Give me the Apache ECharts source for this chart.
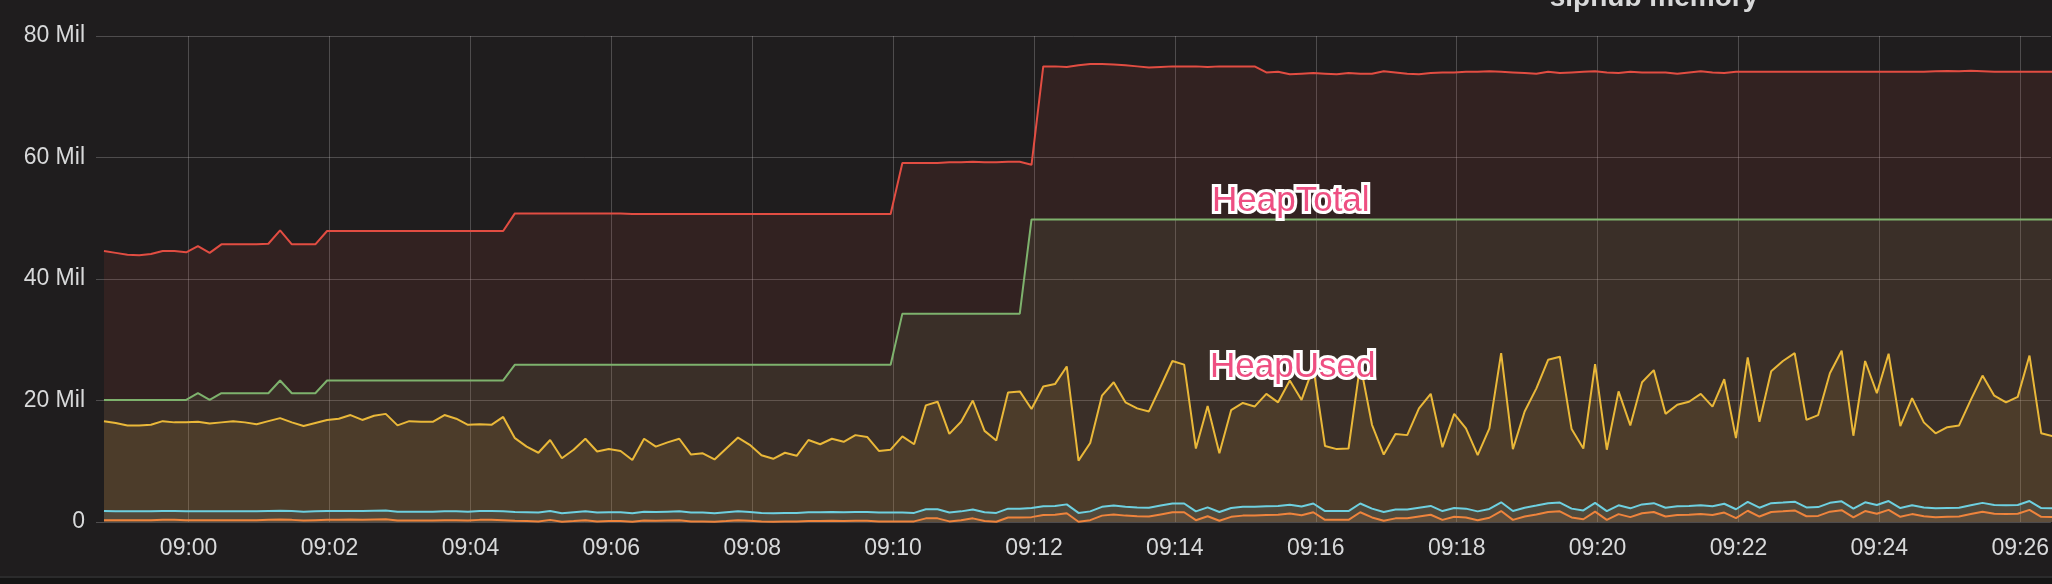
<!DOCTYPE html>
<html>
<head>
<meta charset="utf-8">
<script src="https://cdn.jsdelivr.net/npm/echarts@6/dist/echarts.min.js"></script>
<style>
html,body{margin:0;padding:0;background:#1f1d1e;overflow:hidden;}
#c{width:2052px;height:584px;}
</style>
</head>
<body>
<div id="c"></div>
<script>
// ---- data (values in millions of bytes) ----
const firstSampleTime = '08:58:47.9';
const stepSeconds = 10;
const xMinTime = '08:58:41.1';
const xMaxTime = '09:26:26.1';
const tickLabels = ['09:00','09:02','09:04','09:06','09:08','09:10','09:12','09:14','09:16','09:18','09:20','09:22','09:24','09:26'];
const yTicks = [0, 20, 40, 60, 80];

const rss = [
44.6,44.3,44.0,43.9,44.1,44.6,44.6,44.4,45.4,44.3,
45.7,45.7,45.7,45.7,45.8,48.0,45.7,45.7,45.7,47.9,
47.9,47.9,47.9,47.9,47.9,47.9,47.9,47.9,47.9,47.9,
47.9,47.9,47.9,47.9,47.9,50.8,50.8,50.8,50.8,50.8,
50.8,50.8,50.8,50.8,50.8,50.7,50.7,50.7,50.7,50.7,
50.7,50.7,50.7,50.7,50.7,50.7,50.7,50.7,50.7,50.7,
50.7,50.7,50.7,50.7,50.7,50.7,50.7,50.7,59.1,59.1,
59.1,59.1,59.2,59.2,59.3,59.2,59.2,59.3,59.3,58.8,
75.0,75.0,74.9,75.2,75.4,75.4,75.3,75.2,75.0,74.8,
74.9,75.0,75.0,75.0,74.9,75.0,75.0,75.0,75.0,74.0,
74.1,73.7,73.8,73.9,73.8,73.7,73.9,73.8,73.8,74.2,
74.0,73.8,73.7,73.9,74.0,74.0,74.1,74.1,74.2,74.1,
74.0,73.9,73.8,74.1,73.9,74.0,74.1,74.2,74.0,73.9,
74.1,74.0,74.0,74.0,73.8,74.0,74.2,74.0,73.9,74.1,
74.1,74.1,74.1,74.1,74.1,74.1,74.1,74.1,74.1,74.1,
74.1,74.1,74.1,74.1,74.1,74.1,74.2,74.25,74.2,74.3,
74.2,74.1,74.1,74.1,74.1,74.1,74.1
];

const heapTotal = [
20.1,20.1,20.1,20.1,20.1,20.1,20.1,20.1,21.2,20.1,
21.2,21.2,21.2,21.2,21.2,23.3,21.2,21.2,21.2,23.3,
23.3,23.3,23.3,23.3,23.3,23.3,23.3,23.3,23.3,23.3,
23.3,23.3,23.3,23.3,23.3,25.9,25.9,25.9,25.9,25.9,
25.9,25.9,25.9,25.9,25.9,25.9,25.9,25.9,25.9,25.9,
25.9,25.9,25.9,25.9,25.9,25.9,25.9,25.9,25.9,25.9,
25.9,25.9,25.9,25.9,25.9,25.9,25.9,25.9,34.3,34.3,
34.3,34.3,34.3,34.3,34.3,34.3,34.3,34.3,34.3,49.8,
49.8,49.8,49.8,49.8,49.8,49.8,49.8,49.8,49.8,49.8,
49.8,49.8,49.8,49.8,49.8,49.8,49.8,49.8,49.8,49.8,
49.8,49.8,49.8,49.8,49.8,49.8,49.8,49.8,49.8,49.8,
49.8,49.8,49.8,49.8,49.8,49.8,49.8,49.8,49.8,49.8,
49.8,49.8,49.8,49.8,49.8,49.8,49.8,49.8,49.8,49.8,
49.8,49.8,49.8,49.8,49.8,49.8,49.8,49.8,49.8,49.8,
49.8,49.8,49.8,49.8,49.8,49.8,49.8,49.8,49.8,49.8,
49.8,49.8,49.8,49.8,49.8,49.8,49.8,49.8,49.8,49.8,
49.8,49.8,49.8,49.8,49.8,49.8,49.8
];

const heapUsed = [
16.6,16.3,15.9,15.9,16.0,16.6,16.4,16.4,16.5,16.2,
16.4,16.6,16.4,16.1,16.6,17.1,16.4,15.8,16.3,16.8,
17.0,17.6,16.8,17.5,17.8,15.9,16.6,16.5,16.5,17.6,
17.0,16.0,16.1,16.0,17.3,13.8,12.4,11.4,13.5,10.5,
11.9,13.7,11.6,12.0,11.7,10.2,13.7,12.4,13.1,13.7,
11.1,11.3,10.3,12.1,13.9,12.7,11.0,10.4,11.4,10.9,
13.5,12.8,13.7,13.2,14.3,14.0,11.7,11.9,14.1,12.8,
19.2,19.8,14.5,16.5,20.0,15.0,13.4,21.3,21.5,18.6,
22.3,22.7,25.6,10.1,13.0,20.8,23.0,19.7,18.7,18.2,
22.3,26.5,25.9,12.1,19.1,11.3,18.4,19.6,19.0,21.1,
19.7,23.3,20.1,25.5,12.5,12.0,12.1,26.0,16.0,11.1,
14.5,14.3,18.7,21.1,12.3,17.8,15.4,11.0,15.4,27.8,
12.0,18.2,22.0,26.7,27.2,15.3,12.1,26.0,11.9,21.5,
15.9,23.0,25.0,17.8,19.3,19.8,21.1,19.0,23.5,13.8,
27.1,16.5,24.8,26.5,27.8,16.8,17.6,24.5,28.2,14.2,
26.5,21.2,27.7,15.8,20.4,16.4,14.6,15.6,15.9,20.1,
24.1,20.8,19.7,20.6,27.4,14.6,14.1
];

const external = [
1.8,1.75,1.75,1.75,1.75,1.8,1.8,1.75,1.75,1.75,
1.75,1.75,1.75,1.75,1.8,1.85,1.8,1.7,1.75,1.8,
1.8,1.8,1.8,1.85,1.9,1.7,1.7,1.7,1.7,1.75,
1.75,1.7,1.8,1.8,1.75,1.65,1.6,1.55,1.8,1.45,
1.6,1.75,1.55,1.6,1.6,1.45,1.7,1.65,1.7,1.75,
1.55,1.55,1.45,1.6,1.75,1.65,1.5,1.45,1.5,1.5,
1.6,1.6,1.65,1.6,1.65,1.65,1.55,1.55,1.55,1.5,
2.1,2.1,1.55,1.75,2.05,1.6,1.5,2.2,2.2,2.3,
2.6,2.65,2.9,1.5,1.75,2.5,2.7,2.5,2.4,2.35,
2.7,3.05,3.05,1.75,2.4,1.65,2.3,2.5,2.5,2.6,
2.65,2.85,2.55,3.05,1.8,1.8,1.8,3.05,2.2,1.65,
2.05,2.05,2.35,2.65,1.8,2.3,2.2,1.75,2.15,3.25,
1.8,2.35,2.7,3.1,3.2,2.2,1.9,3.15,1.8,2.75,
2.25,2.9,3.1,2.35,2.6,2.65,2.75,2.6,3.0,2.1,
3.3,2.35,3.1,3.2,3.35,2.4,2.45,3.15,3.4,2.2,
3.25,2.8,3.45,2.3,2.75,2.4,2.25,2.3,2.35,2.75,
3.15,2.8,2.75,2.8,3.45,2.3,2.25
];

const arrayBuffers = [
0.3,0.3,0.3,0.3,0.3,0.35,0.35,0.3,0.3,0.3,
0.3,0.3,0.3,0.3,0.35,0.4,0.35,0.25,0.3,0.35,
0.35,0.4,0.35,0.4,0.45,0.25,0.25,0.25,0.25,0.3,
0.3,0.25,0.35,0.35,0.3,0.2,0.15,0.1,0.35,0.05,
0.15,0.3,0.1,0.15,0.15,0.05,0.25,0.2,0.25,0.3,
0.1,0.1,0.05,0.15,0.3,0.2,0.1,0.05,0.1,0.1,
0.15,0.15,0.2,0.15,0.2,0.2,0.1,0.1,0.1,0.1,
0.6,0.6,0.1,0.3,0.6,0.15,0.05,0.75,0.75,0.8,
1.15,1.2,1.45,0.05,0.3,1.05,1.25,1.05,0.95,0.9,
1.25,1.6,1.6,0.3,0.95,0.2,0.85,1.05,1.05,1.15,
1.2,1.4,1.1,1.6,0.35,0.35,0.35,1.6,0.75,0.2,
0.6,0.6,0.9,1.2,0.35,0.85,0.75,0.3,0.7,1.8,
0.35,0.9,1.25,1.65,1.75,0.75,0.45,1.7,0.35,1.3,
0.8,1.45,1.65,0.9,1.15,1.2,1.3,1.15,1.55,0.65,
1.85,0.9,1.65,1.75,1.9,0.95,1.0,1.7,1.95,0.75,
1.8,1.35,2.0,0.85,1.3,0.95,0.8,0.85,0.9,1.3,
1.7,1.35,1.3,1.35,2.0,0.85,0.8
];

// ---- chart ----
const toSec = s => { const p = s.split(':').map(Number); return p[0]*3600 + p[1]*60 + (p[2] || 0); };
const t0 = toSec(firstSampleTime);
const withTime = arr => arr.map((v, i) => [t0 + i * stepSeconds, v]);
const tickValues = tickLabels.map(toSec);
const pad = n => String(n).padStart(2, '0');
const fmtTime = v => pad(Math.floor(v / 3600)) + ':' + pad(Math.floor((v % 3600) / 60));

const labelColor = '#d8d9da';
const gridColor = 'rgba(200,200,200,0.28)';
const FONT = '"Liberation Sans", "DejaVu Sans", sans-serif';

function lineSeries(name, data, color) {
  return {
    type: 'line', name: name, data: withTime(data),
    showSymbol: false, symbol: 'none', animation: false,
    lineStyle: { color: color, width: 2 },
    itemStyle: { color: color },
    areaStyle: { color: color, opacity: 0.1 }
  };
}

const chart = echarts.init(document.getElementById('c'), null, { renderer: 'canvas', width: 2052, height: 584 });
chart.setOption({
  backgroundColor: '#1f1d1e',
  animation: false,
  grid: { left: 96, right: 0, top: 36, bottom: 62, containLabel: false },
  xAxis: {
    type: 'value',
    min: toSec(xMinTime), max: toSec(xMaxTime),
    axisLine: { show: false },
    axisTick: { show: false, customValues: tickValues },
    axisLabel: { customValues: tickValues, formatter: fmtTime, color: labelColor, fontSize: 23, fontFamily: FONT, margin: 15 },
    splitLine: { show: true, lineStyle: { color: gridColor, width: 1 } }
  },
  yAxis: {
    type: 'value', min: yTicks[0], max: yTicks[yTicks.length - 1], interval: yTicks[1] - yTicks[0],
    axisLine: { show: false }, axisTick: { show: false },
    axisLabel: { formatter: v => v === 0 ? '0' : v + ' Mil', color: labelColor, fontSize: 23, fontFamily: FONT, margin: 11 },
    splitLine: { show: true, lineStyle: { color: gridColor, width: 1 } }
  },
  series: [
    lineSeries('heapTotal', heapTotal, '#7eb26d'),
    lineSeries('heapUsed', heapUsed, '#eab839'),
    lineSeries('external', external, '#6ed0e0'),
    lineSeries('arrayBuffers', arrayBuffers, '#ef843c'),
    lineSeries('rss', rss, '#e24d42')
  ],
  graphic: [
    { type: 'rect', shape: { x: 0, y: 576, width: 2052, height: 2 }, style: { fill: '#2b2b2c' }, z: 50 },
    { type: 'rect', shape: { x: 0, y: 578, width: 2052, height: 6 }, style: { fill: '#151515' }, z: 50 },
    { type: 'text', x: 1654, y: -1.5, z: 60,
      style: { text: 'siphub memory', font: 'bold 28px ' + FONT, fill: labelColor, align: 'center', verticalAlign: 'middle', textAlign: 'center', textVerticalAlign: 'middle' } },
    { type: 'text', x: 1212, y: 201, z: 60,
      style: { text: 'HeapTotal', font: '35px ' + FONT, fill: '#ee4f82', stroke: '#ffffff', lineWidth: 6, align: 'left', verticalAlign: 'middle', textAlign: 'left', textVerticalAlign: 'middle' } },
    { type: 'text', x: 1210, y: 367, z: 60,
      style: { text: 'HeapUsed', font: '35px ' + FONT, fill: '#ee4f82', stroke: '#ffffff', lineWidth: 6, align: 'left', verticalAlign: 'middle', textAlign: 'left', textVerticalAlign: 'middle' } }
  ]
});
</script>
</body>
</html>
